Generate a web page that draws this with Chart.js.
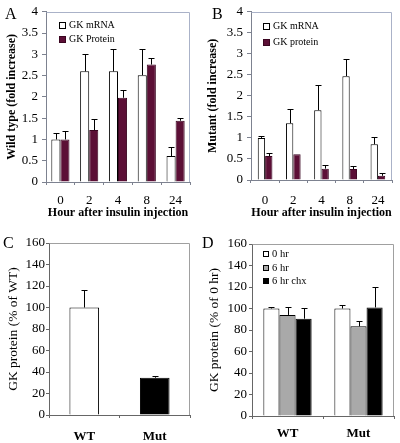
<!DOCTYPE html>
<html>
<head>
<meta charset="utf-8">
<script src="https://cdn.jsdelivr.net/npm/chart.js@4.4.1/dist/chart.umd.min.js"></script>
<style>
    body { margin: 0; background: #fff; }
    #wrap { position: relative; width: 400px; height: 443px; overflow: hidden; }
    canvas { position: absolute; }
    .tag { position: absolute; font: 16px 'Liberation Serif', serif; line-height: 16px; color: #000; }
</style>
</head>
<body>
<div id="wrap">
    <canvas id="chart-a" width="200" height="225" style="left:0;top:0"></canvas>
    <canvas id="chart-b" width="200" height="225" style="left:200px;top:0"></canvas>
    <canvas id="chart-c" width="200" height="218" style="left:0;top:225px"></canvas>
    <canvas id="chart-d" width="200" height="218" style="left:200px;top:225px"></canvas>
    <div class="tag" style="left:5px;top:6px">A</div>
    <div class="tag" style="left:212px;top:6px">B</div>
    <div class="tag" style="left:3px;top:235px">C</div>
    <div class="tag" style="left:202px;top:235px">D</div>
</div>
<script>
// Data
const hours = ['0', '2', '4', '8', '24'];

// Panel A - wild type (fold increase), error = upper SD
const wtMrna = [1.0, 2.6, 2.6, 2.51, 0.61];
const wtMrnaSd = [0.15, 0.4, 0.52, 0.61, 0.21];
const wtProtein = [1.0, 1.22, 1.98, 2.76, 1.44];
const wtProteinSd = [0.19, 0.26, 0.19, 0.15, 0.07];

// Panel B - mutant (fold increase)
const mutMrna = [1.0, 1.35, 1.66, 2.47, 0.85];
const mutMrnaSd = [0.04, 0.34, 0.61, 0.41, 0.17];
const mutProtein = [0.57, 0.61, 0.27, 0.26, 0.10];
const mutProteinSd = [0.08, 0, 0.08, 0.08, 0.06];

// Panel C - GK protein (% of WT)
const genotypes = ['WT', 'Mut'];
const basalProtein = [100, 34.7];
const basalProteinSd = [16, 1.6];

// Panel D - GK protein (% of 0 hr)
const hr0 = [100, 100];
const hr0Sd = [1, 3.3];
const hr6 = [94, 83.4];
const hr6Sd = [7.7, 4.6];
const hr6Chx = [90.5, 101];
const hr6ChxSd = [10.3, 19.3];

const SERIF = "'Liberation Serif', 'Times New Roman', serif";
const MAROON = '#5c0f36';

// Upper error bars from dataset.sd
const errorBars = {
    id: 'errorBars',
    afterDatasetsDraw(chart, args, opts) {
        const ctx = chart.ctx;
        const y = chart.scales.y;
        const cap = opts.cap || 3;
        chart.data.datasets.forEach((ds, di) => {
            if (!ds.sd) return;
            chart.getDatasetMeta(di).data.forEach((bar, i) => {
                const sd = ds.sd[i];
                if (!sd) return;
                const top = Math.round(y.getPixelForValue(ds.data[i] + sd)) + 0.5;
                const x = Math.round(bar.x) + 0.5;
                ctx.save();
                ctx.strokeStyle = '#000';
                ctx.lineWidth = 1;
                ctx.beginPath();
                ctx.moveTo(x, bar.y);
                ctx.lineTo(x, top);
                ctx.moveTo(x - cap, top);
                ctx.lineTo(x + cap, top);
                ctx.stroke();
                ctx.restore();
            });
        });
    }
};

// Top and right frame of the plot area
const frame = {
    id: 'frame',
    beforeDatasetsDraw(chart, args, opts) {
        const a = chart.chartArea;
        const ctx = chart.ctx;
        ctx.save();
        ctx.strokeStyle = opts.color || '#aaa';
        ctx.lineWidth = 1;
        ctx.beginPath();
        ctx.moveTo(Math.round(a.left) + 0.5, Math.round(a.top) + 0.5);
        ctx.lineTo(Math.round(a.right) - 0.5, Math.round(a.top) + 0.5);
        ctx.lineTo(Math.round(a.right) - 0.5, Math.round(a.bottom));
        ctx.stroke();
        ctx.restore();
    }
};

// Small legend inside the plot area
const boxLegend = {
    id: 'boxLegend',
    afterDraw(chart, args, opts) {
        if (!opts.show) return;
        const ctx = chart.ctx;
        const a = chart.chartArea;
        const box = opts.box;
        ctx.save();
        chart.data.datasets.forEach((ds, i) => {
            const cy = Math.round(a.top + opts.dy + i * opts.step);
            const bx = Math.round(a.left + opts.dx);
            const by = cy - Math.floor(box / 2);
            ctx.fillStyle = ds.backgroundColor;
            ctx.fillRect(bx, by, box, box);
            ctx.strokeStyle = ds.borderColor;
            ctx.lineWidth = 1;
            ctx.strokeRect(bx + 0.5, by + 0.5, box - 1, box - 1);
            ctx.fillStyle = '#000';
            ctx.font = opts.font + 'px ' + SERIF;
            ctx.textBaseline = 'middle';
            ctx.fillText(ds.label, bx + box + 3, cy + 0.5);
        });
        ctx.restore();
    }
};

function makeChart(id, cfg) {
    const ctx = document.getElementById(id).getContext('2d');
    return new Chart(ctx, {
        type: 'bar',
        data: { labels: cfg.labels, datasets: cfg.datasets },
        options: {
            responsive: false,
            animation: false,
            devicePixelRatio: 1,
            layout: { padding: cfg.padding },
            datasets: {
                bar: {
                    categoryPercentage: cfg.catPct,
                    barPercentage: cfg.barPct,
                    borderWidth: 1,
                    borderSkipped: 'bottom'
                }
            },
            scales: {
                x: {
                    ticks: {
                        color: '#000',
                        padding: cfg.xTickPad,
                        font: { family: SERIF, size: 13, weight: cfg.xTickBold ? 'bold' : 'normal' }
                    },
                    grid: { drawOnChartArea: false, tickLength: 3, color: cfg.axisColor, offset: true },
                    border: { color: cfg.axisColor },
                    title: {
                        display: !!cfg.xTitle,
                        text: cfg.xTitle,
                        color: '#000',
                        padding: { top: 0, bottom: cfg.xTitlePad },
                        font: { family: SERIF, size: 12, weight: 'bold' }
                    },
                    afterFit: s => { s.height = cfg.xHeight; }
                },
                y: {
                    min: 0,
                    max: cfg.yMax,
                    ticks: {
                        stepSize: cfg.yStep,
                        color: '#000',
                        padding: cfg.yTickPad,
                        font: { family: SERIF, size: 13 },
                        callback: v => String(v)
                    },
                    grid: { drawOnChartArea: false, tickLength: cfg.yTickLen, color: cfg.axisColor },
                    border: { color: cfg.axisColor },
                    title: {
                        display: true,
                        text: cfg.yTitle,
                        color: '#000',
                        padding: { top: cfg.yTitlePad, bottom: 0 },
                        font: { family: SERIF, size: cfg.yTitleSize, weight: cfg.yTitleBold ? 'bold' : 'normal' }
                    },
                    afterFit: s => { s.width = cfg.yWidth; }
                }
            },
            plugins: {
                legend: { display: false },
                tooltip: { enabled: false },
                errorBars: { cap: cfg.cap },
                frame: { color: cfg.frameColor },
                boxLegend: cfg.legend || { show: false }
            }
        },
        plugins: [frame, errorBars, boxLegend]
    });
}

// A
makeChart('chart-a', {
    labels: hours,
    datasets: [
        { label: 'GK mRNA', data: wtMrna, sd: wtMrnaSd, backgroundColor: '#fff', borderColor: '#000' },
        { label: 'GK Protein', data: wtProtein, sd: wtProteinSd, backgroundColor: MAROON, borderColor: '#3a0520' }
    ],
    padding: { left: 0, top: 10, right: 10, bottom: 0 },
    catPct: 0.63, barPct: 1,
    yMax: 4, yStep: 0.5, yWidth: 46, yTickLen: 4, yTickPad: 4,
    yTitle: 'Wild type (fold increase)', yTitleSize: 12, yTitleBold: true, yTitlePad: 5,
    xTitle: 'Hour after insulin injection', xTitlePad: 5, xHeight: 43, xTickPad: 8,
    axisColor: '#7d8290', frameColor: '#aab2c8', cap: 3,
    legend: { show: true, dx: 13, dy: 13, step: 14, box: 7, font: 10 }
});

// B
makeChart('chart-b', {
    labels: hours,
    datasets: [
        { label: 'GK mRNA', data: mutMrna, sd: mutMrnaSd, backgroundColor: '#fff', borderColor: '#000' },
        { label: 'GK protein', data: mutProtein, sd: mutProteinSd, backgroundColor: MAROON, borderColor: '#3a0520' }
    ],
    padding: { left: 0, top: 10, right: 8, bottom: 0 },
    catPct: 0.52, barPct: 1,
    yMax: 4, yStep: 0.5, yWidth: 51, yTickLen: 4, yTickPad: 4,
    yTitle: 'Mutant (fold increase)', yTitleSize: 12, yTitleBold: true, yTitlePad: 6,
    xTitle: 'Hour after insulin injection', xTitlePad: 4.5, xHeight: 45, xTickPad: 10,
    axisColor: '#7d8290', frameColor: '#aab2c8', cap: 3,
    legend: { show: true, dx: 12, dy: 14, step: 16, box: 7, font: 10 }
});

// C
makeChart('chart-c', {
    labels: genotypes,
    datasets: [
        {
            label: 'GK protein', data: basalProtein, sd: basalProteinSd,
            backgroundColor: ['#fff', '#000'], borderColor: '#000'
        }
    ],
    padding: { left: 0, top: 18, right: 10, bottom: 0 },
    catPct: 1, barPct: 0.42,
    yMax: 160, yStep: 20, yWidth: 49, yTickLen: 3, yTickPad: 1,
    yTitle: 'GK protein (% of WT)', yTitleSize: 13.5, yTitleBold: false, yTitlePad: 5,
    xTitle: '', xTitlePad: 0, xHeight: 28, xTickPad: 11, xTickBold: true,
    axisColor: '#666', frameColor: '#a0a0a0', cap: 3
});

// D
makeChart('chart-d', {
    labels: genotypes,
    datasets: [
        { label: '0 hr', data: hr0, sd: hr0Sd, backgroundColor: '#fff', borderColor: '#000' },
        { label: '6 hr', data: hr6, sd: hr6Sd, backgroundColor: '#a9a9a9', borderColor: '#000' },
        { label: '6 hr chx', data: hr6Chx, sd: hr6ChxSd, backgroundColor: '#000', borderColor: '#000' }
    ],
    padding: { left: 0, top: 19, right: 6, bottom: 0 },
    catPct: 0.68, barPct: 1,
    yMax: 160, yStep: 20, yWidth: 52, yTickLen: 3, yTickPad: 2,
    yTitle: 'GK protein (% of 0 hr)', yTitleSize: 13.5, yTitleBold: false, yTitlePad: 6,
    xTitle: '', xTitlePad: 0, xHeight: 27, xTickPad: 7, xTickBold: true,
    axisColor: '#666', frameColor: '#a0a0a0', cap: 3,
    legend: { show: true, dx: 11, dy: 10, step: 13.5, box: 6, font: 10.5 }
});
</script>
</body>
</html>
